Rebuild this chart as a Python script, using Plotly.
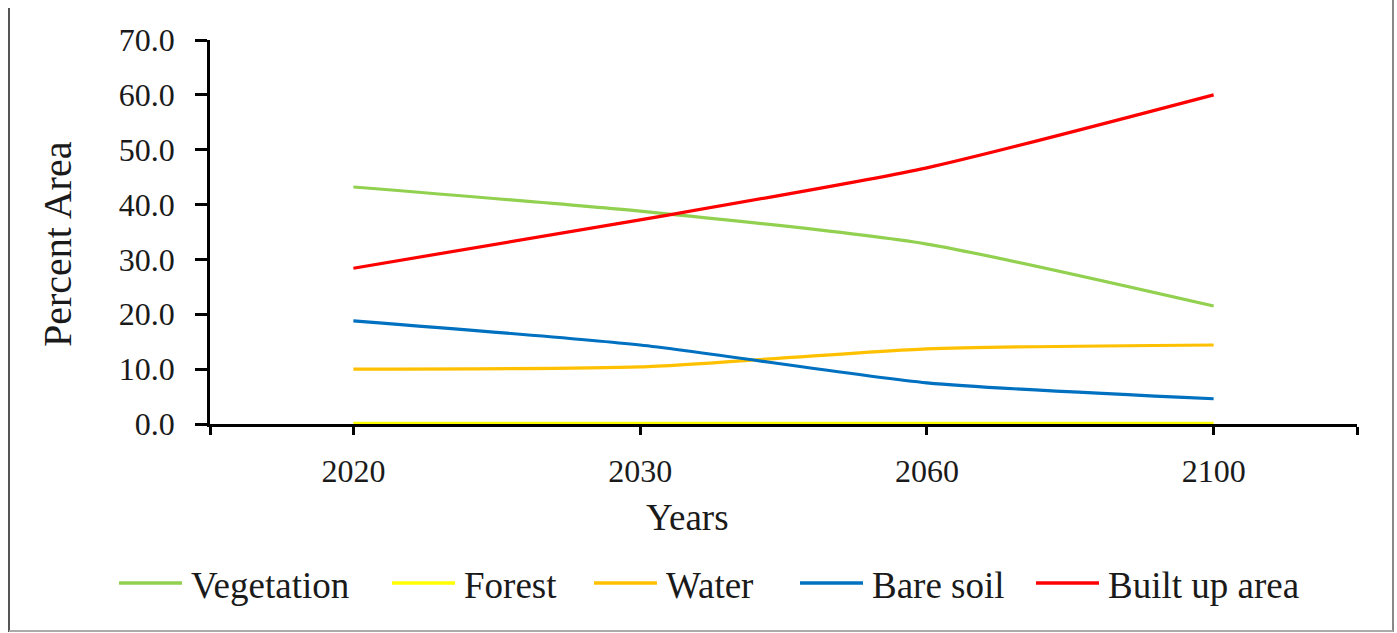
import plotly.graph_objects as go

# Land-cover projection, percent of total area
years = ["2020", "2030", "2060", "2100"]
vegetation = [43.2, 38.8, 32.8, 21.5]
forest = [0.1, 0.1, 0.1, 0.1]
water = [10.0, 10.4, 13.7, 14.4]
bare_soil = [18.8, 14.4, 7.5, 4.6]
built_up = [28.4, 37.2, 46.7, 60.0]

y_ticks = [0, 10, 20, 30, 40, 50, 60, 70]

series = [
    ("Vegetation", vegetation, "#92D050"),
    ("Forest", forest, "#FFFF00"),
    ("Water", water, "#FFC000"),
    ("Bare soil", bare_soil, "#0070C0"),
    ("Built up area", built_up, "#FF0000"),
]

# canvas and plot-area geometry (pixels)
W, H = 1397, 633
ML, MR, MT, MB = 210, 40, 40, 209
PW, PH = W - ML - MR, H - MT - MB

FONT = "Liberation Serif"
TXT = "#1a1a1a"
xpos = list(range(len(years)))


def px_x(p):
    return (p - ML) / PW


def px_y(p):
    return (H - MB - p) / PH


fig = go.Figure()
for name, vals, color in series:
    fig.add_trace(go.Scatter(
        x=xpos, y=vals, name=name, mode="lines",
        line=dict(color=color, width=3.2, shape="spline", smoothing=0.6),
        cliponaxis=False, showlegend=False,
    ))

# legend row below the axis: key line followed by its label
legend_left = [119, 392, 594, 800, 1036]
key_len, key_gap, legend_row = 63, 7, 583
for (name, _, color), x0 in zip(series, legend_left):
    fig.add_shape(type="line", xref="paper", yref="paper",
                  x0=px_x(x0), x1=px_x(x0 + key_len),
                  y0=px_y(legend_row), y1=px_y(legend_row),
                  line=dict(color=color, width=3.5))
    fig.add_annotation(text=name, xref="paper", yref="paper",
                       x=px_x(x0 + key_len + key_gap), y=px_y(legend_row + 2),
                       xanchor="left", yanchor="middle", showarrow=False,
                       font=dict(family=FONT, size=37, color=TXT))

# axis titles
fig.add_annotation(text="Years", xref="paper", yref="paper",
                   x=px_x(687), y=px_y(517), xanchor="center", yanchor="middle",
                   showarrow=False, font=dict(family=FONT, size=37, color=TXT))
fig.add_annotation(text="Percent Area", xref="paper", yref="paper",
                   x=px_x(57), y=px_y(244), xanchor="center", yanchor="middle",
                   textangle=-90, showarrow=False,
                   font=dict(family=FONT, size=40, color=TXT))

# outer chart frame (left, right, bottom edges)
frame = [
    (9, 8, 9, 632, "#555555", 2),
    (1393, 0, 1393, 632, "#888888", 2),
    (9, 631, 1393, 631, "#AAAAAA", 2),
]
for x0, y0, x1, y1, c, w in frame:
    fig.add_shape(type="line", xref="paper", yref="paper",
                  x0=px_x(x0), y0=px_y(y0), x1=px_x(x1), y1=px_y(y1),
                  line=dict(color=c, width=w))

fig.update_layout(
    width=W, height=H,
    margin=dict(l=ML, r=MR, t=MT, b=MB, autoexpand=False),
    paper_bgcolor="white", plot_bgcolor="white",
    font=dict(family=FONT, size=32, color=TXT),
    showlegend=False,
    xaxis=dict(
        range=[-0.5, len(years) - 0.5],
        tickmode="array",
        tickvals=[-0.5] + xpos + [len(years) - 0.5],
        ticktext=[""] + years + [""],
        ticks="outside", ticklen=8, tickwidth=2.5, tickcolor="black",
        showline=True, linecolor="black", linewidth=2.5,
        showgrid=False, zeroline=False, layer="below traces",
        ticklabelstandoff=9,
        tickfont=dict(family=FONT, size=32, color=TXT),
    ),
    yaxis=dict(
        range=[0, 70],
        tickmode="array", tickvals=y_ticks,
        ticktext=[f"{v:.1f}" for v in y_ticks],
        ticks="outside", ticklen=12, tickwidth=2.5, tickcolor="black",
        showline=True, linecolor="black", linewidth=2.5,
        showgrid=False, zeroline=False,
        ticklabelstandoff=14,
        tickfont=dict(family=FONT, size=32, color=TXT),
    ),
)

fig.write_html("out.html")
